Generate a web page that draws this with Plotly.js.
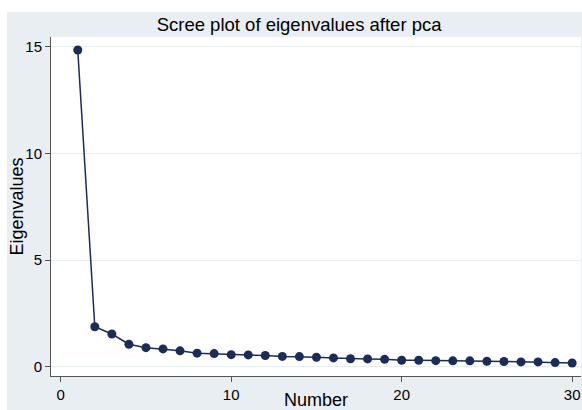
<!DOCTYPE html>
<html>
<head>
<meta charset="utf-8">
<script src="https://cdn.plot.ly/plotly-3.0.1.min.js"></script>
<style>
  html, body { margin: 0; padding: 0; background: #ffffff; width: 582px; height: 410px; overflow: hidden; }
  #chart { position: absolute; left: 7px; top: 12px; width: 575px; height: 398px; }
</style>
</head>
<body>
<div id="chart"></div>
<script>
const numbers = [1,2,3,4,5,6,7,8,9,10,11,12,13,14,15,16,17,18,19,20,21,22,23,24,25,26,27,28,29,30];
const eigenvalues = [14.85,1.87,1.53,1.05,0.89,0.83,0.74,0.63,0.61,0.56,0.55,0.52,0.48,0.47,0.44,0.41,0.37,0.36,0.34,0.30,0.30,0.28,0.27,0.27,0.25,0.24,0.22,0.22,0.19,0.17];
const yTicks = [0, 5, 10, 15];
const xTicks = [0, 10, 20, 30];

const navy = '#1b2c58';
const font = 'Liberation Sans, Arial, Helvetica, sans-serif';

const trace = {
  x: numbers,
  y: eigenvalues,
  type: 'scatter',
  mode: 'lines+markers',
  line: { color: navy, width: 1.5 },
  marker: { color: navy, size: 9 },
  hoverinfo: 'x+y'
};

const layout = {
  width: 575,
  height: 398,
  paper_bgcolor: '#e8eef1',
  plot_bgcolor: '#ffffff',
  margin: { l: 44, r: 1, t: 25, b: 34 },
  showlegend: false,
  font: { family: font, color: '#000000' },
  title: {
    text: 'Scree plot of eigenvalues after pca',
    font: { family: font, size: 18.5, color: '#000000' },
    x: 0.508, xref: 'container', xanchor: 'center',
    y: 0.969, yref: 'container', yanchor: 'middle'
  },
  xaxis: {
    range: [-0.57, 30.52],
    tickvals: xTicks,
    ticktext: xTicks.map(String),
    ticks: 'outside', ticklen: 5, tickwidth: 1, tickcolor: '#555555',
    showline: true, linecolor: '#555555', linewidth: 1,
    showgrid: false, zeroline: false,
    tickfont: { family: font, size: 15, color: '#000000' },
    title: { text: 'Number', font: { family: font, size: 18, color: '#000000' }, standoff: 0 }
  },
  yaxis: {
    range: [-0.44, 15.46],
    tickvals: yTicks,
    ticktext: yTicks.map(String),
    ticks: 'outside', ticklen: 5, tickwidth: 1, tickcolor: '#555555',
    showline: true, linecolor: '#555555', linewidth: 1,
    showgrid: true, gridcolor: '#e6eef1', gridwidth: 1,
    zeroline: false,
    tickfont: { family: font, size: 15, color: '#000000' },
    title: { text: 'Eigenvalues', font: { family: font, size: 18, color: '#000000' }, standoff: 2 }
  }
};

Plotly.newPlot('chart', [trace], layout, { displayModeBar: false, responsive: false });
</script>
</body>
</html>
